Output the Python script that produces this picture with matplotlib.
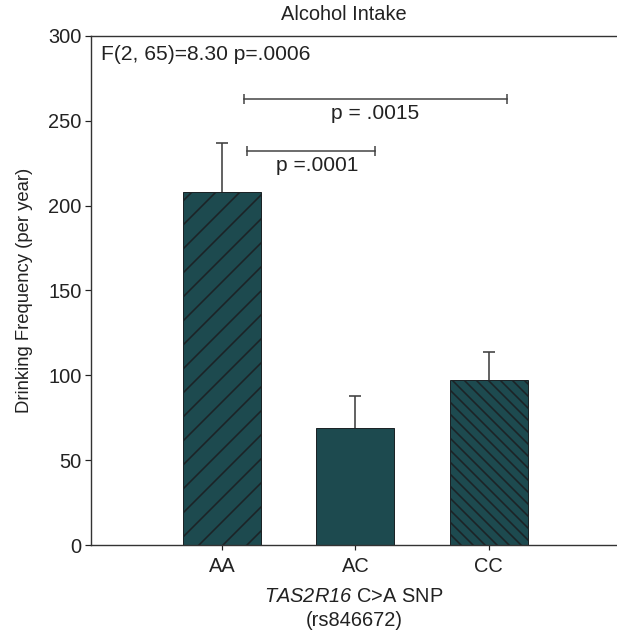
import matplotlib
matplotlib.use("Agg")
import matplotlib.pyplot as plt

# data
genotypes = ["AA", "AC", "CC"]
means = [208, 69, 97]
sem = [29, 19, 17]
hatches = ["/", "", "\\\\"]

# pairwise comparisons: (from, to, bracket height, label, label shift)
comparisons = [
    (0.165, 2.135, 263, "p = .0015", 0.0),
    (0.185, 1.145, 232, "p =.0001", 0.05),
]
anova_text = "F(2, 65)=8.30 p=.0006"

plt.rcParams["font.family"] = ["Liberation Sans", "DejaVu Sans"]
# math text only used for the italic gene name, digits included
plt.rcParams["mathtext.fontset"] = "custom"
plt.rcParams["mathtext.rm"] = "Liberation Sans:italic"
plt.rcParams["mathtext.it"] = "Liberation Sans:italic"
plt.rcParams["hatch.linewidth"] = 1.6

# dpi 72 so that the hatch spacing matches the original
fig = plt.figure(figsize=(617 / 72, 636 / 72), dpi=72)
ax = fig.add_axes([0.1475, 0.143, 0.8525, 0.8005])

bar_color = "#1d4a4f"
edge = "#1c2326"
txt = "#222222"
pos = list(range(len(genotypes)))
for x, m, h in zip(pos, means, hatches):
    ax.bar(x, m, width=0.585, color=bar_color, edgecolor=edge,
           hatch=h, linewidth=1.0, zorder=2)
eb = ax.errorbar(pos, means, yerr=[[0] * len(sem), sem], fmt="none",
                 ecolor="#404040", elinewidth=1.6, capsize=6, capthick=1.6, zorder=1)
# only the upper half of the error bar is drawn
eb[1][0].set_visible(False)

for x1, x2, y, label, shift in comparisons:
    ax.plot([x1, x2], [y, y], color="#404040", lw=1.5,
            marker="|", markersize=10, markeredgewidth=1.5)
    ax.text((x1 + x2) / 2 + shift, y - 3, label,
            ha="center", va="top", fontsize=21, color=txt)

ax.text(0.019, 0.982, anova_text, transform=ax.transAxes,
        ha="left", va="top", fontsize=21, color=txt)

ax.set_xlim(-0.98, 2.96)
ax.set_ylim(0, 300)
ax.set_yticks(range(0, 301, 50))
ax.set_xticks(pos)
ax.set_xticklabels(genotypes)
ax.tick_params(axis="both", labelsize=20, colors=txt, width=1.2,
               length=6, direction="out")
ax.tick_params(axis="x", length=5, pad=7)
for s in ["left", "bottom", "top"]:
    ax.spines[s].set_linewidth(1.4)
    ax.spines[s].set_color("#333333")
ax.spines["right"].set_visible(False)

ax.set_ylabel("Drinking Frequency (per year)", fontsize=18.5, color=txt, labelpad=15)
ax.set_xlabel(r"$TAS2R16$ C>A SNP" + "\n(rs846672)", fontsize=20,
              color=txt, labelpad=11, linespacing=1.35)
ax.set_title("Alcohol Intake", fontsize=20, color=txt, pad=16, x=0.48)

fig.savefig("out.png", dpi=72)
